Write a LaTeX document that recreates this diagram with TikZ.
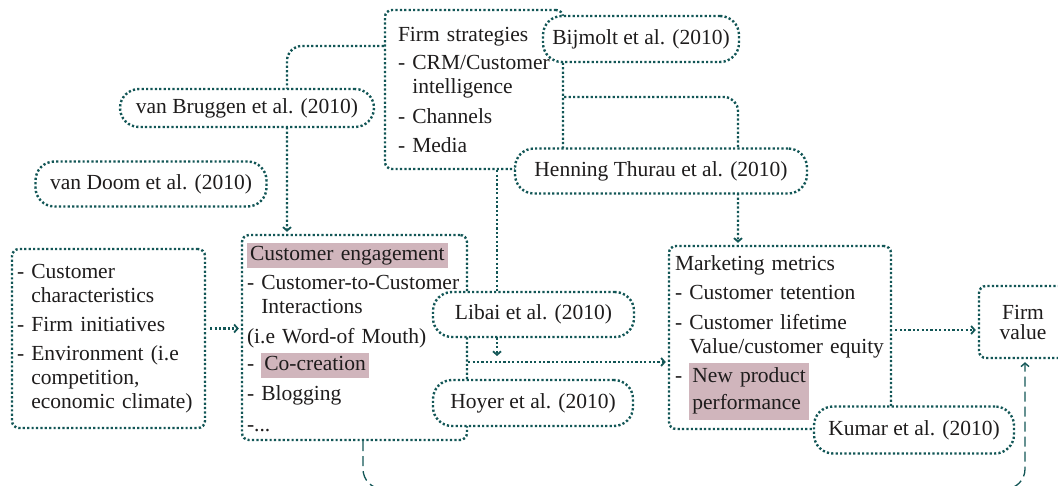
\documentclass[tikz,border=0pt]{standalone}
\usepackage{fontspec}
\setmainfont{Liberation Serif}
\usetikzlibrary{arrows.meta, positioning, backgrounds}

\definecolor{lc}{RGB}{18,86,86}
\definecolor{hl}{RGB}{208,181,188}
\definecolor{tc}{RGB}{30,28,28}

\newcommand{\ind}{\hphantom{-\ }}
\newcommand{\hlt}[1]{{\fboxsep=3pt\colorbox{hl}{\vphantom{Ag}#1}}}

\tikzset{
    dots/.style={draw=lc, line width=2.4pt, dash pattern=on 2.2pt off 2.2pt},
    box/.style={dots, rounded corners=7pt, fill=white, align=left, text=tc, inner ysep=0pt, font=\fontsize{21.5}{24}\selectfont},
    cite/.style={dots, rounded corners=19pt, fill=white, text=tc, inner sep=0pt, font=\fontsize{21.5}{24}\selectfont},
    link/.style={dots, rounded corners=14pt, -{Straight Barb[length=3.5pt,width=8pt,line width=1.8pt]}, shorten >=2pt},
    feedback/.style={draw=lc, line width=1.3pt, dash pattern=on 10pt off 5pt, rounded corners=20pt, -{Straight Barb[length=3.5pt,width=8pt,line width=1.4pt]}, shorten >=3pt}
}

\begin{document}
\begin{tikzpicture}[x=1pt, y=-1pt]
    \useasboundingbox (0,0) rectangle (1058,486);

    \node[box, text width=183pt, inner xsep=5pt, minimum height=179pt] (cc) at (108.5,338.5) {- Customer\\ \ind characteristics\\[5pt] - Firm initiatives\\[5pt] - Environment (i.e\\ \ind competition,\\ \ind economic climate)};
    \node[box, text width=215pt, inner xsep=5pt, minimum height=205pt] (ce) at (354.5,337.5) {\hlt{Customer engagement}\\[5pt] - Customer-to-Customer\\ \ind Interactions\\[6pt] (i.e Word-of Mouth)\\[3pt] - \hlt{Co-creation}\\[6pt] - Blogging\\[7pt] -...};
    \node[box, text width=152pt, inner xsep=13pt, minimum height=159pt] (fs) at (474,89.5) {Firm strategies\\[4pt] - CRM/Customer\\ \ind intelligence\\[6pt] - Channels\\[5pt] - Media};
    \node[box, text width=210pt, inner xsep=6pt, minimum height=183pt] (mm) at (780,337.5) {Marketing metrics\\[5pt] - Customer tetention\\[6pt] - Customer lifetime\\ \ind Value/customer equity\\[4pt] - \hlt{\begin{tabular}[t]{@{}l@{}}New product\\[3pt] performance\end{tabular}}};
    \node[box, align=center, font=\fontsize{21.5}{20}\selectfont, minimum width=88pt, minimum height=72pt] (fv) at (1023,322) {Firm\\value};

    \node[cite, minimum width=254pt, minimum height=38pt] (vb) at (247,108) {van Bruggen et al. (2010)};
    \node[cite, minimum width=231pt, minimum height=45pt] (vd) at (151,184) {van Doom et al. (2010)};
    \node[cite, minimum width=196pt, minimum height=46pt] (bj) at (641,39) {Bijmolt et al. (2010)};
    \node[cite, minimum width=292pt, minimum height=45pt] (ht) at (661,171) {Henning Thurau et al. (2010)};
    \node[cite, minimum width=201pt, minimum height=45pt] (lb) at (533.5,314.5) {Libai et al. (2010)};
    \node[cite, minimum width=200pt, minimum height=46pt] (hy) at (533,403) {Hoyer et al. (2010)};
    \node[cite, minimum width=200pt, minimum height=47pt] (km) at (914,430) {Kumar et al. (2010)};

    \coordinate (jn) at (497,356);
    \coordinate (bot) at (700,489);

    \begin{scope}[on background layer]
        \draw[link, rounded corners=15pt] ([yshift=43.5pt]fs.west) -| ([xshift=-67.5pt]ce.north);
        \draw[link] ([yshift=-7.5pt]fs.east) -| ([xshift=-42pt]mm.north);
        \draw[link, shorten >=0pt] ([xshift=23pt]fs.south) -- (jn);
        \draw[link] ([yshift=-24.5pt]ce.east) -- ([yshift=-24.5pt]mm.west);
        \draw[link, shorten <=4pt] ([yshift=10pt]cc.east) -- ([yshift=10pt]cc.east -| ce.west);
        \draw[link, shorten <=3pt] ([yshift=7.5pt]mm.east) -- ([yshift=7.5pt]mm.east -| fv.west);
        \draw[feedback] ([xshift=8.5pt]ce.south) |- (bot) -| ([xshift=2pt]fv.south);
    \end{scope}
\end{tikzpicture}
\end{document}
